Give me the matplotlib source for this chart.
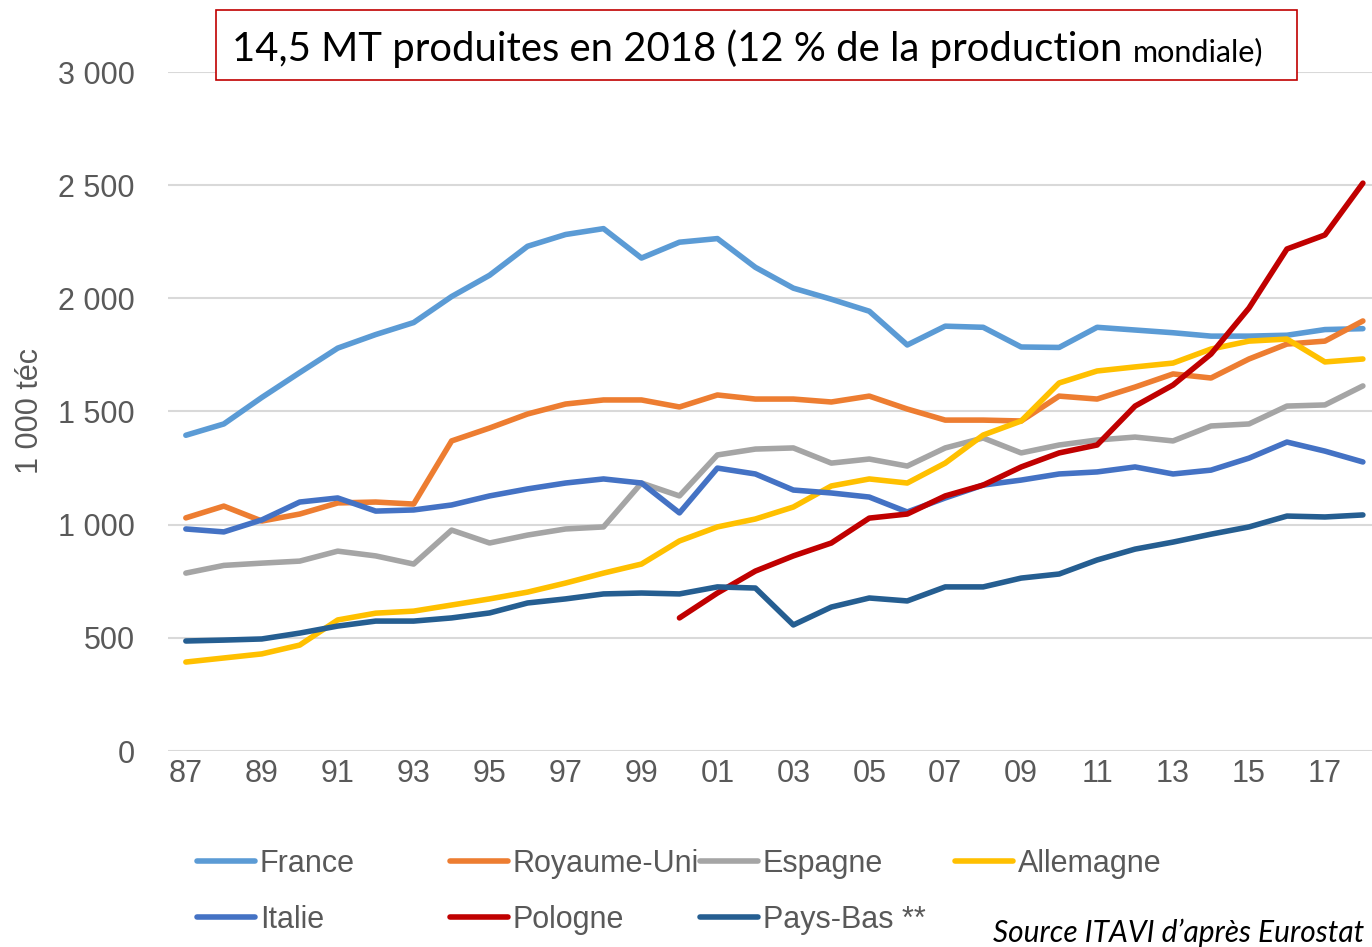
import matplotlib.pyplot as plt
from matplotlib.patches import Rectangle

# Données (1000 téc)
annees = list(range(1987, 2019))
france = [1395, 1445, 1562, 1672, 1780, 1840, 1893, 2008, 2102, 2230, 2282,
          2308, 2178, 2248, 2264, 2137, 2045, 1996, 1943, 1794, 1877, 1872,
          1785, 1783, 1872, 1860, 1848, 1833, 1833, 1837, 1862, 1866]
royaume_uni = [1030, 1082, 1016, 1047, 1096, 1100, 1091, 1370, 1427, 1489, 1533,
               1551, 1551, 1520, 1573, 1555, 1555, 1542, 1568, 1511, 1462, 1462,
               1458, 1568, 1555, 1608, 1666, 1648, 1732, 1798, 1811, 1900]
espagne = [786, 820, 830, 839, 883, 862, 826, 976, 919, 954, 981,
           990, 1184, 1127, 1308, 1334, 1339, 1272, 1290, 1259, 1339, 1383,
           1317, 1352, 1374, 1387, 1370, 1436, 1445, 1524, 1529, 1613]
allemagne = [393, 411, 429, 468, 579, 609, 618, 645, 672, 702, 742,
             786, 826, 928, 990, 1025, 1078, 1171, 1202, 1184, 1272, 1396,
             1458, 1626, 1679, 1697, 1714, 1776, 1811, 1820, 1719, 1732]
italie = [981, 968, 1021, 1100, 1118, 1060, 1065, 1087, 1127, 1158, 1184,
          1202, 1184, 1052, 1250, 1224, 1153, 1140, 1122, 1056, 1118, 1175,
          1197, 1224, 1233, 1255, 1224, 1241, 1294, 1365, 1325, 1277]
annees_pologne = list(range(2000, 2019))
pologne = [588, 698, 795, 862, 919, 1029, 1047, 1127, 1175, 1255, 1317,
           1352, 1524, 1617, 1754, 1957, 2218, 2280, 2509]
pays_bas = [486, 490, 495, 521, 552, 574, 574, 588, 610, 654, 672,
            694, 698, 694, 725, 720, 557, 636, 676, 663, 725, 725,
            764, 782, 844, 892, 923, 958, 990, 1038, 1034, 1043]

yticks = [0, 500, 1000, 1500, 2000, 2500, 3000]
ytick_labels = ["0", "500", "1 000", "1 500", "2 000", "2 500", "3 000"]
xticks = list(range(1987, 2018, 2))
xtick_labels = [str(a)[2:] for a in xticks]

gris = "#595959"
plt.rcParams["font.family"] = ["Liberation Sans", "DejaVu Sans"]

fig = plt.figure(figsize=(13.72, 9.47), dpi=100)
ax = fig.add_axes([168 / 1372, 196 / 947, 1204 / 1372, 679 / 947])

series = [
    ("France", annees, france, "#5B9BD5"),
    ("Royaume-Uni", annees, royaume_uni, "#ED7D31"),
    ("Espagne", annees, espagne, "#A5A5A5"),
    ("Allemagne", annees, allemagne, "#FFC000"),
    ("Italie", annees, italie, "#4472C4"),
    ("Pologne", annees_pologne, pologne, "#C00000"),
    ("Pays-Bas **", annees, pays_bas, "#255E91"),
]
lignes = {}
for nom, x, y, c in series:
    l, = ax.plot(x, y, color=c, lw=4, solid_capstyle="round", clip_on=False, zorder=3)
    lignes[nom] = l

ax.set_xlim(1986.53, 2018.24)
ax.set_ylim(0, 3000)
ax.set_yticks(yticks)
ax.set_yticklabels(ytick_labels)
ax.set_xticks(xticks)
ax.set_xticklabels(xtick_labels)
ax.tick_params(length=0, labelsize=22, labelcolor=gris)
ax.tick_params(axis="y", pad=24)
ax.tick_params(axis="x", pad=6)
ax.grid(axis="y", color="#D9D9D9", lw=1.5)
ax.set_axisbelow(True)
for s in ax.spines.values():
    s.set_visible(False)
ax.set_ylabel("1 000 téc", fontsize=22, color=gris)
ax.yaxis.set_label_coords(-0.102, 0.5)

# Légende en colonnes de largeurs différentes, comme dans Excel
colonnes = [(["France", "Italie"], 197), (["Royaume-Uni", "Pologne"], 450),
            (["Espagne", "Pays-Bas **"], 700), (["Allemagne"], 955)]
for noms_col, xpix in colonnes:
    fig.legend([lignes[n] for n in noms_col], noms_col,
               loc="upper left", bbox_to_anchor=(xpix / 1372, 1 - 849 / 947),
               frameon=False, fontsize=22, labelcolor=gris,
               handlelength=1.9, handletextpad=0.15, labelspacing=0.85,
               borderpad=0, borderaxespad=0)

# Encadré du titre
fig.patches.append(Rectangle((216 / 1372, 1 - 80 / 947), 1081 / 1372, 70 / 947,
                             transform=fig.transFigure, facecolor="white",
                             edgecolor="#C00000", lw=1.2, zorder=5))
t1 = fig.text(232 / 1372, 1 - 61 / 947, "14,5 MT produites en 2018 (12 % de la production ",
              fontsize=28.8, family=["Lato", "DejaVu Sans"], color="black",
              va="baseline", ha="left", zorder=6)
fig.canvas.draw()
bb = t1.get_window_extent()
fig.text(bb.x1 / 1372, 1 - 61 / 947, "mondiale)", fontsize=22,
         family=["Lato", "DejaVu Sans"], color="black", va="baseline", ha="left",
         zorder=6)

fig.text(1364 / 1372, 1 - 933 / 947, "Source ITAVI d\u2019après Eurostat", fontsize=21.5,
         style="italic", family=["Lato", "DejaVu Sans"], color="black",
         ha="right", va="center")

fig.savefig("out.png", dpi=100)
